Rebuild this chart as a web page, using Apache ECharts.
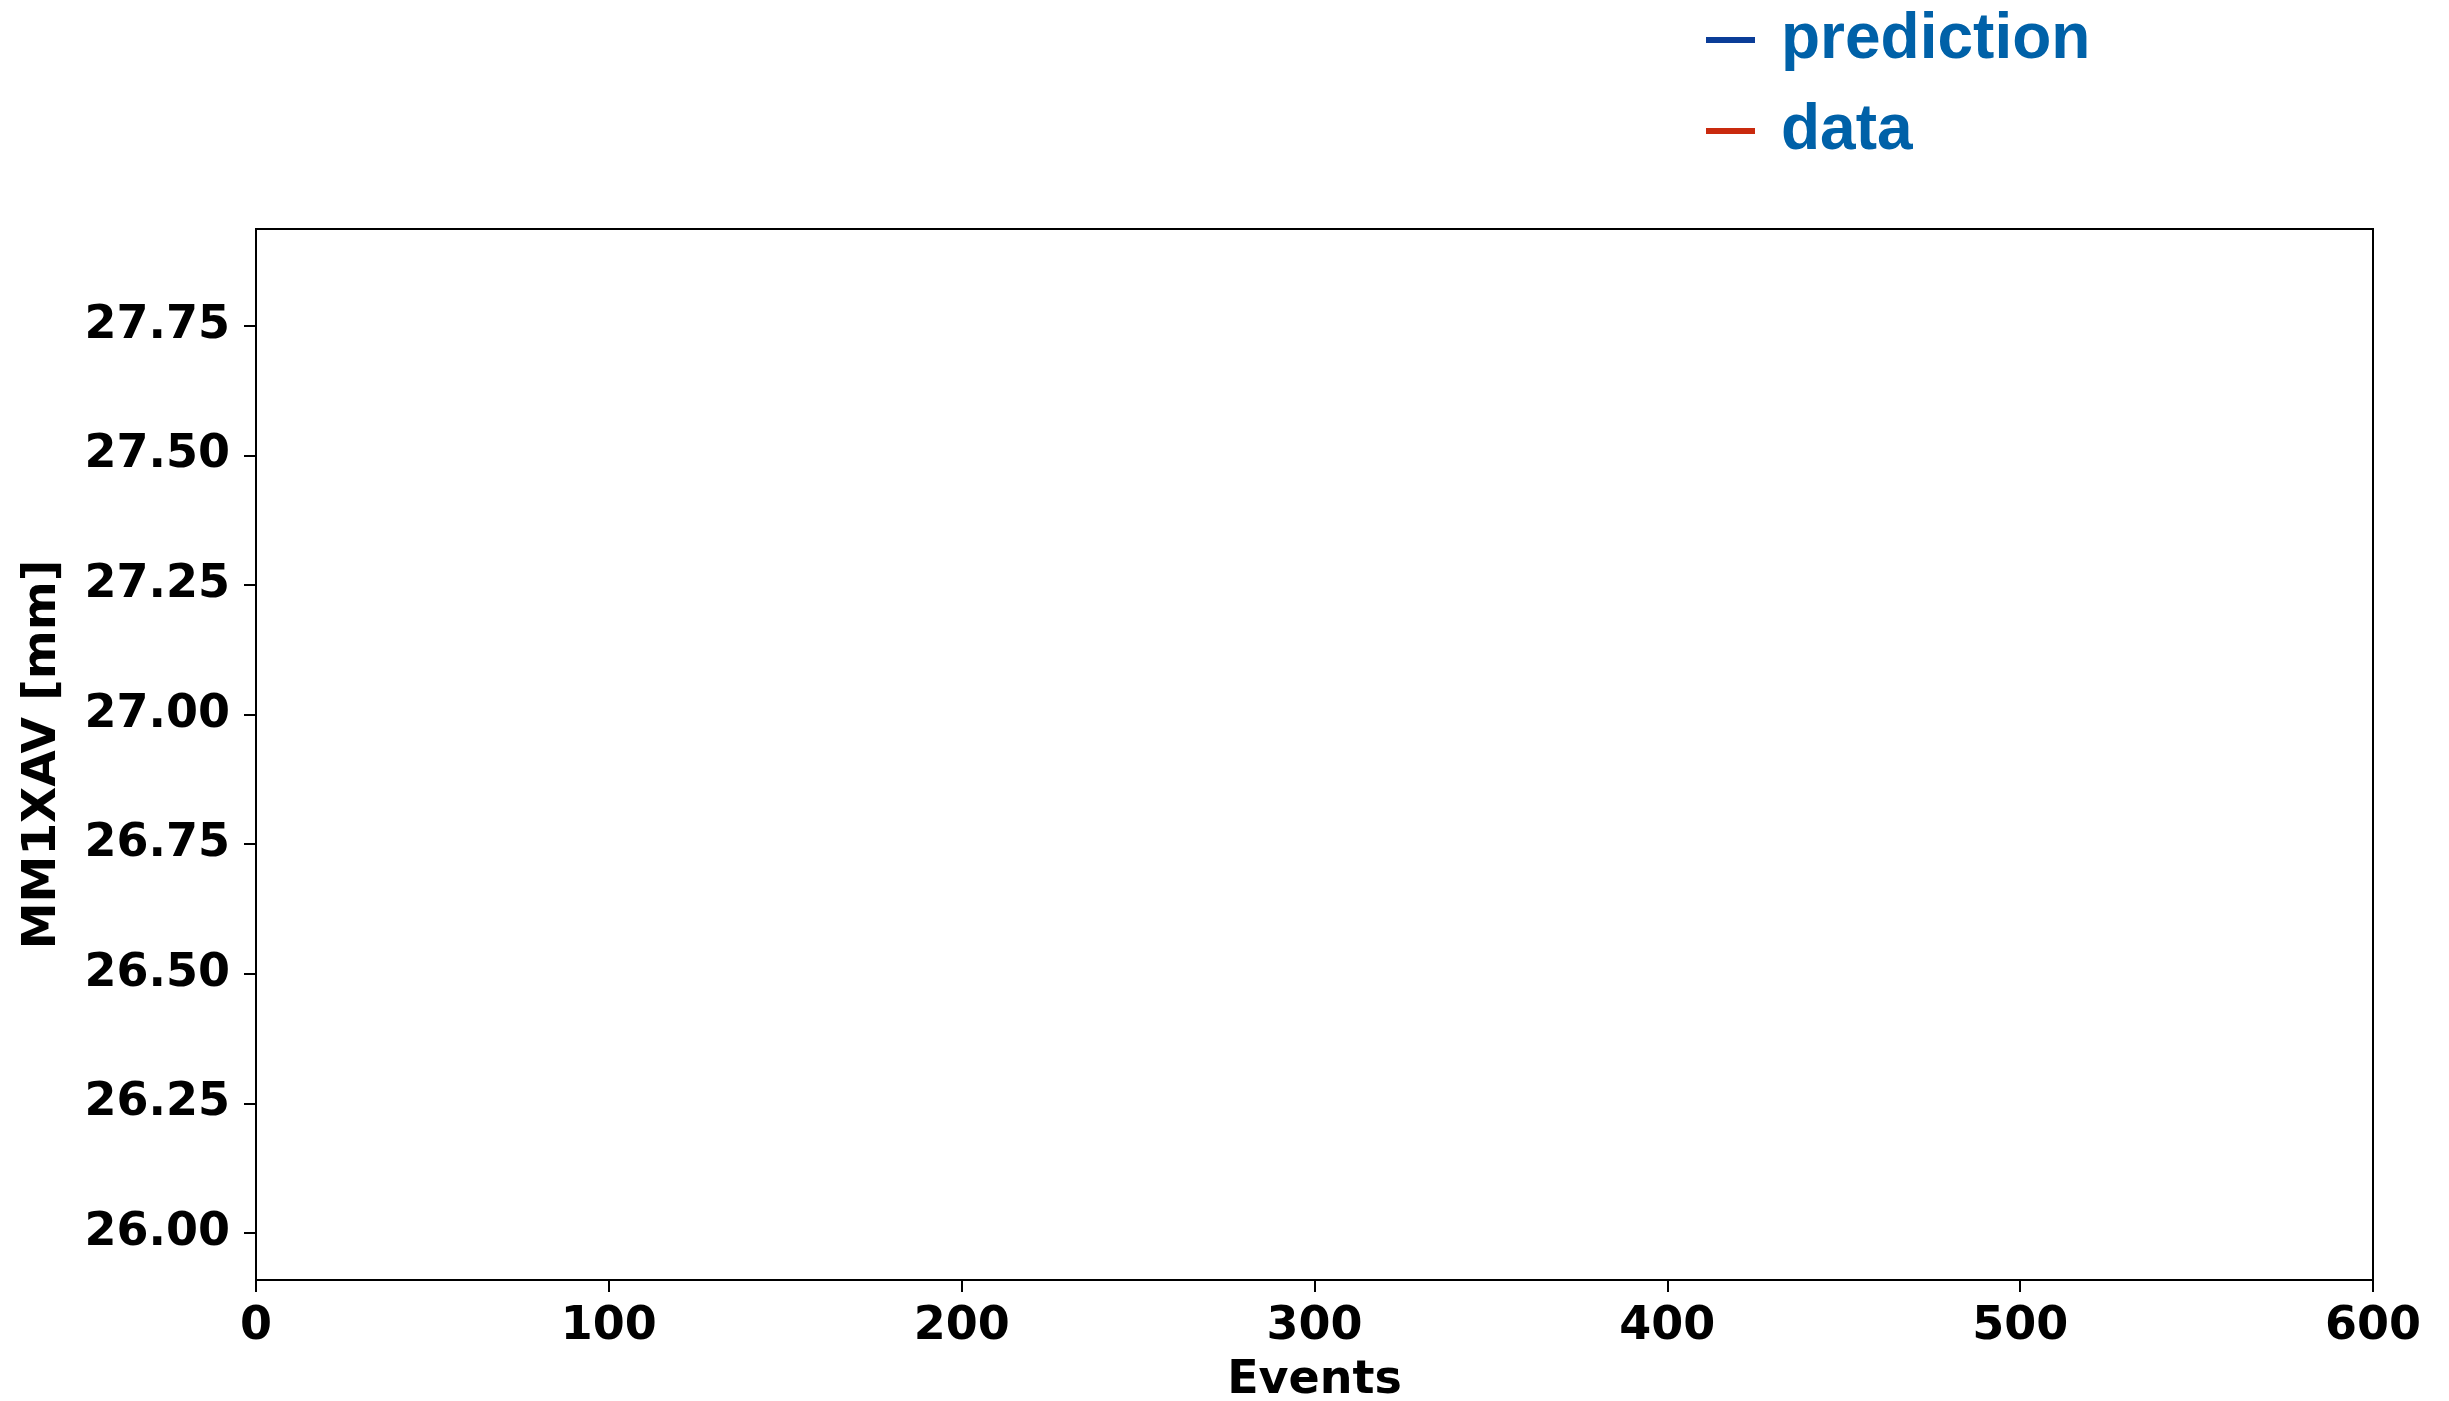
<!DOCTYPE html>
<html>
<head>
<meta charset="utf-8">
<script src="https://cdn.jsdelivr.net/npm/echarts@6/dist/echarts.min.js"></script>
<style>
html,body{margin:0;padding:0;background:#fff;}
#chart{width:2449px;height:1401px;}
</style>
</head>
<body>
<div id="chart"></div>
<script>
// Series (the reference plot area is empty: no points were drawn)
const events = [];
const predictionValues = [];
const dataValues = [];
const seriesNames = ['prediction', 'data'];
const seriesColors = ['#0b3d98', '#c92a0e'];
// Axis ticks
const xTicks = [0, 100, 200, 300, 400, 500, 600];
const yTicks = [26.00, 26.25, 26.50, 26.75, 27.00, 27.25, 27.50, 27.75];
const yRange = [25.909, 27.937];

const chart = echarts.init(document.getElementById('chart'), null, {renderer: 'canvas'});
const tickFont = {fontFamily: 'DejaVu Sans', fontWeight: 'bold', fontSize: 46, color: '#000'};
const xNameFont = {fontFamily: 'DejaVu Sans', fontWeight: 'bold', fontSize: 46, color: '#000'};
const yNameFont = {fontFamily: 'DejaVu Sans', fontWeight: 'bold', fontSize: 47, color: '#000'};

function pairs(xs, ys) { return xs.map((x, i) => [x, ys[i]]); }

chart.setOption({
  animation: false,
  backgroundColor: '#fff',
  grid: {left: 256, top: 229, width: 2117, height: 1051, containLabel: false, outerBoundsMode: 'none', show: true, borderColor: '#000', borderWidth: 2, backgroundColor: '#fff'},
  legend: {
    orient: 'vertical',
    left: 1701,
    top: 3,
    icon: 'rect',
    itemWidth: 49,
    itemHeight: 6,
    itemGap: 27,
    data: seriesNames,
    textStyle: {fontFamily: 'Liberation Sans', fontWeight: 'bold', fontSize: 64, lineHeight: 64, color: '#0061a8', padding: [0, 0, 0, 21]}
  },
  xAxis: {
    type: 'value',
    min: xTicks[0],
    max: xTicks[xTicks.length - 1],
    interval: 100,
    name: 'Events',
    nameLocation: 'middle',
    nameGap: 78,
    nameTextStyle: xNameFont,
    axisLine: {show: true, lineStyle: {color: '#000', width: 2}},
    axisTick: {show: true, inside: false, length: 12, lineStyle: {color: '#000', width: 2}},
    axisLabel: Object.assign({margin: 24, formatter: v => String(v)}, tickFont),
    splitLine: {show: false}
  },
  yAxis: {
    type: 'value',
    min: yRange[0],
    max: yRange[1],
    name: 'MM1XAV [mm]',
    nameLocation: 'middle',
    nameGap: 190,
    nameTextStyle: yNameFont,
    axisLine: {show: true, lineStyle: {color: '#000', width: 2}},
    axisTick: {show: true, inside: false, length: 12, lineStyle: {color: '#000', width: 2}, customValues: yTicks},
    axisLabel: Object.assign({margin: 26, padding: [6, 0, 0, 0], customValues: yTicks, formatter: v => Number(v).toFixed(2)}, tickFont),
    splitLine: {show: false}
  },
  series: [
    {name: seriesNames[0], type: 'line', data: pairs(events, predictionValues), showSymbol: false, color: seriesColors[0], lineStyle: {color: seriesColors[0], width: 3}},
    {name: seriesNames[1], type: 'line', data: pairs(events, dataValues), showSymbol: false, color: seriesColors[1], lineStyle: {color: seriesColors[1], width: 3}}
  ]
});
</script>
</body>
</html>
